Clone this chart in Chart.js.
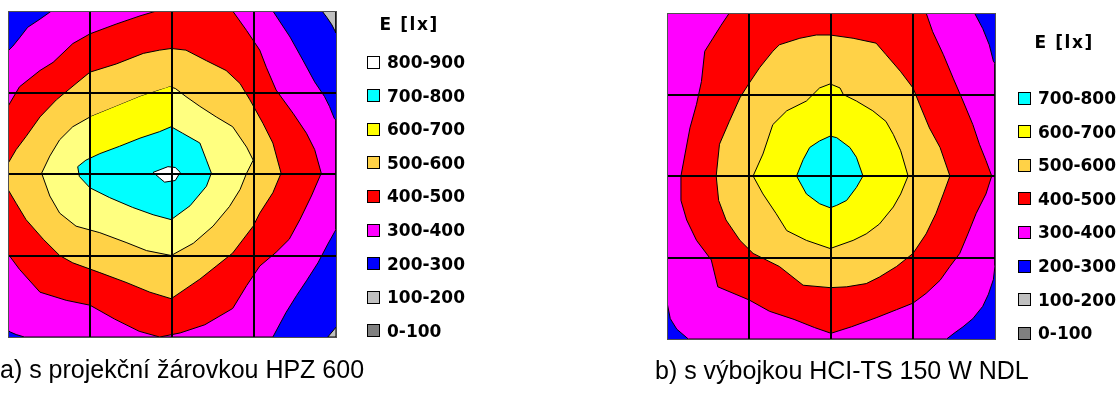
<!DOCTYPE html>
<html><head><meta charset="utf-8">
<script src="https://cdn.jsdelivr.net/npm/chart.js@4/dist/chart.umd.min.js"></script>
<style>
html,body{margin:0;padding:0;background:#fff;width:1118px;height:394px;overflow:hidden;position:relative;}
canvas{position:absolute;top:0;}
.lg{position:absolute;font-family:"DejaVu Sans";font-weight:bold;font-size:17px;color:#000;white-space:nowrap;line-height:20px;height:20px;}
.lt{letter-spacing:1.6px;}
.bx{position:absolute;width:11px;height:11px;border:1px solid #000;}
</style></head><body>
<canvas id="ca" width="477" height="394" style="left:0px"></canvas>
<canvas id="cb" width="463" height="394" style="left:655px"></canvas>
<div id="la"></div><div id="lb"></div>
<script>
// ---------- data ----------
const legendTitle = 'E [lx]';
const captionA = 'a) s projekční žárovkou HPZ 600';
const captionB = 'b) s výbojkou HCI-TS 150 W NDL';
const rangesA = ['800-900','700-800','600-700','500-600','400-500','300-400','200-300','100-200','0-100'];
const rangesB = ['700-800','600-700','500-600','400-500','300-400','200-300','100-200','0-100'];
const rangeColors = ['#FFFFFF','#00FFFF','#FFFF00','#FFD247','#FF0000','#FF00FF','#0000FF','#C0C0C0','#808080'];
const rangeNames  = ['800-900','700-800','600-700','500-600','400-500','300-400','200-300','100-200','0-100'];
const lightYellow = '#FFFF80';
const gridValues = [0,1,2,3,4];

// chart a: contour polygons, [u (left->right), v (top->bottom)] in grid units
const a100top = [[3.83,0],[4,0],[4,0.27],[3.95,0.17],[3.89,0.08]];
const a100bot = [[3.9,4],[4,4],[4,3.88]];
const a200 = [[0,0],[4,0],[4,4],[0,4]];
const a300 = [[0.53,0],[3.23,0],[3.44,0.32],[3.60,0.61],[3.74,0.87],[3.86,1.05],[3.92,1.17],[3.98,1.32],[4,1.34],[4,2.68],[3.90,2.86],[3.78,3.09],[3.64,3.31],[3.52,3.49],[3.39,3.70],[3.23,4.0],[0.2,4],[0.1,3.97],[0.03,3.94],[0,3.92],[0,0.49],[0.06,0.43],[0.14,0.33],[0.24,0.20],[0.39,0.10]];
const a400 = [[0,1.17],[0.14,0.93],[0.39,0.73],[0.55,0.63],[0.79,0.40],[1.0,0.28],[1.32,0.16],[1.61,0.06],[1.81,0],[2.74,0],[2.91,0.24],[3.07,0.48],[3.15,0.69],[3.27,0.97],[3.48,1.26],[3.64,1.50],[3.74,1.70],[3.82,1.99],[3.70,2.27],[3.56,2.56],[3.43,2.80],[3.27,2.96],[3.07,3.13],[2.91,3.37],[2.74,3.65],[2.4,3.85],[2.1,3.95],[1.85,4.0],[1.6,3.93],[1.3,3.78],[1.0,3.61],[0.71,3.55],[0.39,3.45],[0.14,3.17],[0,2.98]];
const a500 = [[1.99,0.46],[2.17,0.48],[2.42,0.61],[2.66,0.73],[2.83,0.89],[2.95,1.09],[3.11,1.38],[3.23,1.62],[3.33,1.99],[3.23,2.23],[3.07,2.48],[2.99,2.64],[2.74,2.97],[2.54,3.13],[2.34,3.29],[1.99,3.53],[1.73,3.45],[1.44,3.33],[1.12,3.21],[0.79,3.09],[0.63,3.0],[0.43,2.80],[0.22,2.56],[0.10,2.36],[0,2.19],[0,1.87],[0.10,1.70],[0.22,1.54],[0.39,1.30],[0.59,1.09],[0.83,0.89],[1.0,0.75],[1.32,0.65],[1.65,0.52],[1.85,0.48]];
const a600 = [[1.92,0.95],[1.97,0.93],[2.04,0.95],[2.17,1.05],[2.34,1.17],[2.54,1.30],[2.74,1.42],[2.91,1.67],[2.99,1.83],[2.91,1.99],[2.83,2.19],[2.70,2.40],[2.50,2.64],[2.26,2.85],[1.99,3.0],[1.69,2.94],[1.44,2.84],[1.12,2.72],[0.83,2.64],[0.63,2.48],[0.51,2.27],[0.41,1.99],[0.51,1.78],[0.63,1.58],[0.79,1.42],[1.0,1.30],[1.32,1.17],[1.61,1.05],[1.85,0.97]];
const a600patch = [[1.0,1.30],[1.32,1.17],[1.61,1.05],[1.85,0.97],[1.97,0.93],[2.0,0.94],[2.0,1.42],[1.85,1.48],[1.61,1.56],[1.36,1.66],[1.12,1.75],[1.0,1.80]];
const a700 = [[1.99,1.42],[2.13,1.50],[2.34,1.62],[2.42,1.83],[2.48,1.99],[2.42,2.15],[2.22,2.39],[1.99,2.56],[1.77,2.50],[1.52,2.41],[1.24,2.29],[1.0,2.17],[0.87,2.03],[0.85,1.91],[0.95,1.83],[1.12,1.75],[1.36,1.66],[1.61,1.56],[1.85,1.48]];
const a800 = [[1.77,1.98],[1.95,1.91],[2.04,1.92],[2.10,1.98],[2.04,2.08],[1.91,2.10],[1.85,2.05]];

// chart b
const b200 = [[0,0],[4,0],[4,4],[0,4]];
const b300 = [[0,0],[3.75,0],[3.85,0.19],[3.93,0.39],[3.98,0.59],[4,0.62],[4,3.1],[3.98,3.27],[3.92,3.45],[3.85,3.6],[3.73,3.75],[3.61,3.85],[3.5,3.93],[3.41,4],[0.26,4],[0.12,3.88],[0.04,3.75],[0,3.55]];
const b400 = [[0.76,0],[3.16,0],[3.24,0.23],[3.37,0.51],[3.49,0.80],[3.61,1.08],[3.73,1.37],[3.81,1.61],[3.89,1.81],[3.96,2.0],[3.89,2.22],[3.77,2.46],[3.67,2.71],[3.57,2.95],[3.45,3.11],[3.33,3.28],[3.16,3.44],[3.0,3.56],[2.8,3.64],[2.55,3.74],[2.25,3.85],[2.0,3.93],[1.8,3.86],[1.55,3.76],[1.25,3.66],[1.0,3.52],[0.62,3.36],[0.54,3.03],[0.36,2.79],[0.24,2.54],[0.17,2.30],[0.17,2.0],[0.22,1.73],[0.28,1.41],[0.36,1.12],[0.42,0.84],[0.46,0.47],[0.56,0.31],[0.66,0.15]];
const b500 = [[1.99,0.27],[2.27,0.31],[2.55,0.37],[2.67,0.51],[2.85,0.72],[3.0,0.92],[3.08,1.12],[3.20,1.41],[3.33,1.65],[3.45,2.0],[3.37,2.22],[3.28,2.46],[3.16,2.71],[3.0,2.95],[2.80,3.11],[2.59,3.24],[2.43,3.32],[2.19,3.36],[1.99,3.37],[1.66,3.34],[1.37,3.11],[1.05,2.95],[0.89,2.79],[0.72,2.54],[0.63,2.30],[0.60,2.0],[0.64,1.61],[0.76,1.33],[0.89,1.04],[0.99,0.88],[1.13,0.67],[1.29,0.47],[1.37,0.39],[1.62,0.31],[1.82,0.27]];
const b600 = [[1.99,0.87],[2.11,0.92],[2.15,1.0],[2.31,1.08],[2.51,1.20],[2.67,1.33],[2.76,1.49],[2.85,1.69],[2.94,2.0],[2.85,2.22],[2.76,2.38],[2.59,2.59],[2.43,2.71],[2.27,2.79],[1.99,2.89],[1.70,2.79],[1.46,2.67],[1.33,2.46],[1.17,2.22],[1.05,2.0],[1.17,1.73],[1.29,1.37],[1.46,1.20],[1.70,1.08],[1.78,1.0],[1.86,0.92]];
const b700 = [[1.99,1.51],[2.07,1.53],[2.23,1.65],[2.31,1.77],[2.39,2.0],[2.31,2.14],[2.19,2.30],[2.07,2.36],[1.99,2.39],[1.86,2.34],[1.70,2.22],[1.58,2.0],[1.66,1.80],[1.74,1.65],[1.86,1.57]];

// ---------- drawing ----------
const col = name => rangeColors[rangeNames.indexOf(name)];
function poly(points, color, order, bw) {
  const pts = points.concat([points[0]]).map(p => ({x: p[0], y: p[1]}));
  return {data: pts, backgroundColor: color, borderColor: '#000', borderWidth: bw,
          fill: 'shape', showLine: true, pointRadius: 0, pointHoverRadius: 0, tension: 0, order: order};
}
const isEdge = c => c.tick && (c.tick.value === gridValues[0] || c.tick.value === gridValues[gridValues.length-1]);
const edgeCol = c => isEdge(c) ? '#505050' : '#000';
const edgeW = c => isEdge(c) ? 1 : 2;
function makeChart(id, datasets, caption, leftW, padTop, rightW, capPad) {
  return new Chart(document.getElementById(id), {
    type: 'scatter',
    data: {datasets},
    options: {
      responsive: false, animation: false, events: [],
      layout: {padding: {top: padTop, right: 0, bottom: 0, left: 0}},
      scales: {
        x: {type: 'linear', min: gridValues[0], max: gridValues[gridValues.length-1],
            ticks: {display: false, stepSize: 1},
            grid: {z: 1, drawTicks: false, color: edgeCol, lineWidth: edgeW},
            border: {display: true, z: 1, color: '#505050', width: 1},
            afterFit: s => { s.height = 0; }},
        y: {type: 'linear', min: gridValues[0], max: gridValues[gridValues.length-1], reverse: true,
            ticks: {display: false, stepSize: 1},
            grid: {z: 1, drawTicks: false, color: edgeCol, lineWidth: edgeW},
            border: {display: true, z: 1, color: '#505050', width: 1},
            afterFit: s => { s.width = leftW; }},
        yR: {type: 'linear', position: 'right', display: true,
            ticks: {display: false}, grid: {display: false, drawTicks: false}, border: {display: false},
            afterFit: s => { s.width = rightW; }}
      },
      plugins: {
        legend: {display: false},
        tooltip: {enabled: false},
        title: {display: true, text: caption, position: 'bottom', align: 'start', color: '#000',
                font: {family: '"Liberation Sans", Arial, sans-serif', size: 25, weight: 'normal', lineHeight: 1.2},
                padding: capPad}
      }
    }
  });
}

makeChart('ca', [
  poly(a200, col('200-300'), 20, 0),
  poly(a100top, col('100-200'), 19, 1),
  poly(a100bot, col('100-200'), 19, 1),
  poly(a300, col('300-400'), 18, 1),
  poly(a400, col('400-500'), 17, 1),
  poly(a500, col('500-600'), 16, 1),
  poly(a600, lightYellow, 15, 1),
  poly(a600patch, col('600-700'), 14, 0),
  poly(a700, col('700-800'), 13, 1),
  poly(a800, col('800-900'), 12, 1)
], captionA, 8, 11, 141, {top: 19, bottom: 8});

makeChart('cb', [
  poly(b200, col('200-300'), 20, 0),
  poly(b300, col('300-400'), 18, 1),
  poly(b400, col('400-500'), 17, 1),
  poly(b500, col('500-600'), 16, 1),
  poly(b600, col('600-700'), 15, 1),
  poly(b700, col('700-800'), 13, 1)
], captionB, 12, 13, 123, {top: 18, bottom: 7});

// ---------- legends (HTML text) ----------
function legend(elId, ranges, titleCx, titleCy, boxX, textX, firstY, step) {
  const el = document.getElementById(elId);
  const t = document.createElement('div');
  t.className = 'lg lt'; t.textContent = legendTitle;
  el.appendChild(t);
  t.style.left = (titleCx - t.offsetWidth / 2) + 'px';
  t.style.top = (titleCy - 10) + 'px';
  ranges.forEach((r, i) => {
    const cy = firstY + i * step;
    const b = document.createElement('div');
    b.className = 'bx';
    b.style.background = col(r);
    b.style.left = boxX + 'px';
    b.style.top = Math.round(cy - 6.5) + 'px';
    el.appendChild(b);
    const s = document.createElement('div');
    s.className = 'lg'; s.textContent = r;
    s.style.left = textX + 'px';
    s.style.top = Math.round(cy - 10) + 'px';
    el.appendChild(s);
  });
}
legend('la', rangesA, 409, 24, 367, 387, 62, 33.6);
legend('lb', rangesB, 1064, 42, 1018, 1038, 98, 33.6);
</script>
</body></html>
